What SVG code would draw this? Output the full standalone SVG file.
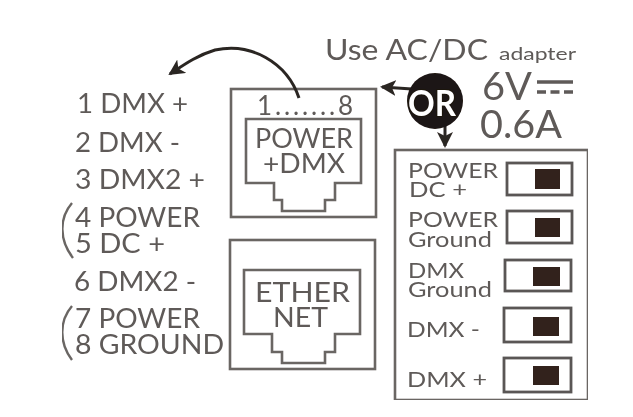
<svg xmlns="http://www.w3.org/2000/svg" width="633" height="417" viewBox="0 0 633 417">
<style>
text{font-family:"Lato","Noto Sans","Liberation Sans",sans-serif;fill:#5e5a58}
.l{font-size:26px}
.s{font-size:22px}
.box{fill:none;stroke:#6a6664;stroke-width:2.6}
.sw{fill:#fff;stroke:#5a5654;stroke-width:2.8}
.k{fill:#33211f;stroke:none}
.c{fill:none;stroke:#2c2624;stroke-width:3}
.p{fill:none;stroke:#6a6664;stroke-width:2.4}
</style>
<defs>
<filter id="soft" x="0" y="0" width="100%" height="100%"><feGaussianBlur stdDeviation="0.65"/></filter>
<marker id="ah" viewBox="0 0 16 16" refX="14" refY="8" markerWidth="16" markerHeight="16" markerUnits="userSpaceOnUse" orient="auto"><path d="M0 0L16 8L0 16L4 8Z" fill="#2c2624"/></marker>
</defs>
<rect width="633" height="417" fill="#fff"/>
<g filter="url(#soft)">
<g id="pinout">
<text class="l" x="77" y="113" textLength="111" lengthAdjust="spacingAndGlyphs">1 DMX +</text>
<text class="l" x="75" y="152" textLength="105" lengthAdjust="spacingAndGlyphs">2 DMX -</text>
<text class="l" x="75" y="189" textLength="130" lengthAdjust="spacingAndGlyphs">3 DMX2 +</text>
<text class="l" x="75" y="227" textLength="125" lengthAdjust="spacingAndGlyphs">4 POWER</text>
<text class="l" x="75" y="253" textLength="90" lengthAdjust="spacingAndGlyphs">5 DC +</text>
<text class="l" x="74" y="291" textLength="122" lengthAdjust="spacingAndGlyphs">6 DMX2 -</text>
<text class="l" x="75" y="328" textLength="125" lengthAdjust="spacingAndGlyphs">7 POWER</text>
<text class="l" x="75" y="354" textLength="149" lengthAdjust="spacingAndGlyphs">8 GROUND</text>
<path class="p" d="M72 203C59 218 59 240 73 258"/>
<path class="p" d="M72 306C59 321 59 343 72 360"/>
</g>
<g id="power-dmx">
<rect class="box" x="231" y="89" width="145" height="128"/>
<path class="box" d="M246 119H361V183H335V200H325V211H282V200H274V183H246Z"/>
<text class="l" x="257" y="115" textLength="96">1.......8</text>
<text class="l" x="255" y="148" textLength="98" lengthAdjust="spacingAndGlyphs">POWER</text>
<text class="l" x="263" y="173" textLength="82" lengthAdjust="spacingAndGlyphs">+DMX</text>
</g>
<g id="ethernet">
<rect class="box" x="230" y="240" width="145" height="129"/>
<path class="box" d="M244 270H360V334H335V352H325V363H282V352H272V334H244Z"/>
<text class="l" x="255" y="302" textLength="95" lengthAdjust="spacingAndGlyphs">ETHER</text>
<text class="l" x="273" y="327" textLength="55" lengthAdjust="spacingAndGlyphs">NET</text>
</g>
<g id="adapter">
<text x="325" y="60" font-size="28" textLength="163" lengthAdjust="spacingAndGlyphs">Use AC/DC</text>
<text x="499" y="60" font-size="18" textLength="77" lengthAdjust="spacingAndGlyphs">adapter</text>
<text x="482" y="100" font-size="39" textLength="50" lengthAdjust="spacingAndGlyphs">6V</text>
<path d="M537 82H573" stroke="#5e5a58" stroke-width="3.4" fill="none"/>
<path d="M537 92H573" stroke="#5e5a58" stroke-width="3.4" stroke-dasharray="9 4.5" fill="none"/>
<text x="480" y="138" font-size="39" textLength="82" lengthAdjust="spacingAndGlyphs">0.6A</text>
</g>
<g id="connectors">
<path class="c" d="M299 98C287 62 250 42 215 50C198 55 185 64 170 74" marker-end="url(#ah)"/>
<path class="c" d="M412 89L382 87" marker-end="url(#ah)"/>
<path class="c" d="M445 126L445 146" marker-end="url(#ah)"/>
</g>
<g id="or">
<circle cx="435" cy="101" r="28" fill="#1c1412"/>
<text x="408" y="116" font-size="37" font-weight="700" style="fill:#fff;stroke:#1c1412;stroke-width:1.5;paint-order:stroke" textLength="48" lengthAdjust="spacingAndGlyphs">OR</text>
</g>
<g id="switches">
<rect class="box" x="395" y="150" width="193" height="250"/>
</g>
<g id="sw-power-dc">
<text class="s" x="408" y="178" textLength="90" lengthAdjust="spacingAndGlyphs">POWER</text>
<text class="s" x="409" y="197" textLength="58" lengthAdjust="spacingAndGlyphs">DC +</text>
<rect class="sw" x="507" y="163" width="65" height="32"/>
<rect class="k" x="535" y="169" width="25" height="20"/>
</g>
<g id="sw-power-ground">
<text class="s" x="408" y="227" textLength="90" lengthAdjust="spacingAndGlyphs">POWER</text>
<text class="s" x="408" y="247" textLength="84" lengthAdjust="spacingAndGlyphs">Ground</text>
<rect class="sw" x="507" y="211" width="65" height="32"/>
<rect class="k" x="535" y="218" width="25" height="19"/>
</g>
<g id="sw-dmx-ground">
<text class="s" x="408" y="278" textLength="56" lengthAdjust="spacingAndGlyphs">DMX</text>
<text class="s" x="408" y="297" textLength="84" lengthAdjust="spacingAndGlyphs">Ground</text>
<rect class="sw" x="505" y="260" width="66" height="31"/>
<rect class="k" x="533" y="267" width="27" height="19"/>
</g>
<g id="sw-dmx-minus">
<text class="s" x="407" y="337" textLength="73" lengthAdjust="spacingAndGlyphs">DMX -</text>
<rect class="sw" x="504" y="308" width="67" height="34"/>
<rect class="k" x="533" y="317" width="26" height="19"/>
</g>
<g id="sw-dmx-plus">
<text class="s" x="407" y="387" textLength="80" lengthAdjust="spacingAndGlyphs">DMX +</text>
<rect class="sw" x="504" y="358" width="67" height="34"/>
<rect class="k" x="533" y="366" width="26" height="19"/>
</g>
</g>
</svg>
